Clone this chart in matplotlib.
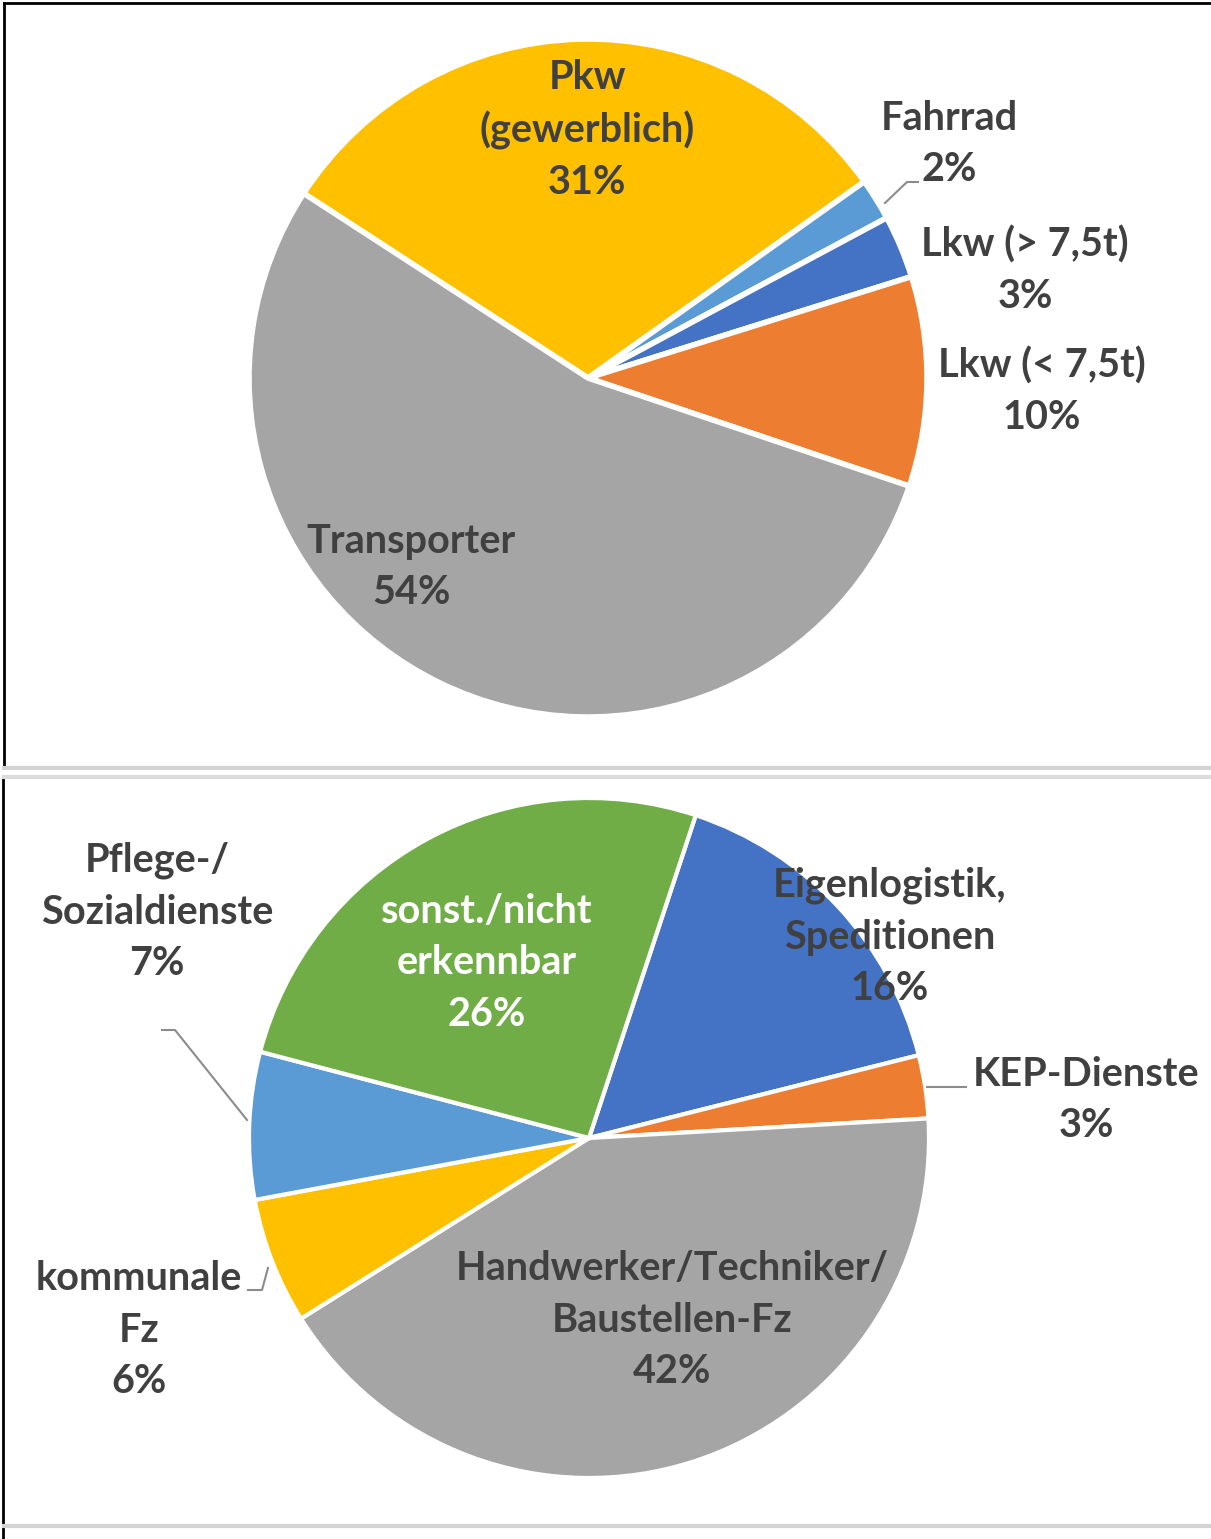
import matplotlib.pyplot as plt
from matplotlib.lines import Line2D

# Daten oben: Fahrzeugarten
fz_labels = ["Pkw\n(gewerblich)", "Fahrrad", "Lkw (> 7,5t)", "Lkw (< 7,5t)", "Transporter"]
fz_values = [31, 2, 3, 10, 54]
fz_colors = ["#FFC000", "#5B9BD5", "#4472C4", "#ED7D31", "#A5A5A5"]

# Daten unten: Branchen
br_labels = ["Eigenlogistik,\nSpeditionen", "KEP-Dienste", "Handwerker/Techniker/\nBaustellen-Fz",
             "kommunale\nFz", "Pflege-/\nSozialdienste", "sonst./nicht\nerkennbar"]
br_values = [16, 3, 42, 6, 7, 26]
br_colors = ["#4472C4", "#ED7D31", "#A5A5A5", "#FFC000", "#5B9BD5", "#70AD47"]

# Layout in Pixeln (x, y von oben)
W, H = 1211, 1539
fz_center, fz_radius, fz_start = (588, 378), 339, 147
br_center, br_radius, br_start = (589, 1138), 340, 71.7
fz_textpos = [(587, 130), (949, 144), (1025, 270), (1042, 391), (411, 567)]
br_textpos = [(890, 937), (1086, 1100), (672, 1320), (139, 1330), (157, 912), (487, 963)]
br_textcol = ["#404040"] * 5 + ["white"]

txt = "#404040"
font = "Lato"
fs = 28.5
ls = 1.48

fig = plt.figure(figsize=(W / 100, H / 100), dpi=100)
ax = fig.add_axes([0, 0, 1, 1])

ax.pie(fz_values, colors=fz_colors, startangle=fz_start, counterclock=False,
       center=(fz_center[0], -fz_center[1]), radius=fz_radius,
       wedgeprops=dict(edgecolor="white", linewidth=4), frame=True)
ax.pie(br_values, colors=br_colors, startangle=br_start, counterclock=False,
       center=(br_center[0], -br_center[1]), radius=br_radius,
       wedgeprops=dict(edgecolor="white", linewidth=3), frame=True)

for lab, v, (x, y) in zip(fz_labels, fz_values, fz_textpos):
    ax.text(x, -y, f"{lab}\n{v}%", ha="center", va="center", color=txt,
            fontsize=fs, fontweight="bold", family=font, linespacing=ls)
for lab, v, (x, y), c in zip(br_labels, br_values, br_textpos, br_textcol):
    ax.text(x, -y, f"{lab}\n{v}%", ha="center", va="center", color=c,
            fontsize=fs, fontweight="bold", family=font, linespacing=ls)

# Führungslinien
lead = "#8c8c8c"
ax.plot([918, 907, 885], [-182, -182, -203], color=lead, lw=1.5)
ax.plot([162, 175, 247], [-1030, -1030, -1120], color=lead, lw=1.5)
ax.plot([927, 966], [-1087, -1087], color=lead, lw=1.5)
ax.plot([248, 262, 268], [-1290, -1290, -1268], color=lead, lw=1.5)

# Rahmen der beiden Bilder
ax.add_line(Line2D([4, W], [-3, -3], color="black", lw=2))
ax.add_line(Line2D([4, 4], [-3, -768], color="black", lw=2))
ax.add_line(Line2D([3, 3], [-776, -1539], color="black", lw=2))
ax.add_line(Line2D([4, W], [-768, -768], color="#d4d4d4", lw=3))
ax.add_line(Line2D([4, W], [-777, -777], color="#dcdcdc", lw=3))
ax.add_line(Line2D([4, W], [-1526, -1526], color="#d4d4d4", lw=3))

ax.set_xlim(0, W)
ax.set_ylim(-H, 0)
ax.set_aspect("auto")
ax.axis("off")

fig.savefig("out.png", dpi=100, facecolor="white")
